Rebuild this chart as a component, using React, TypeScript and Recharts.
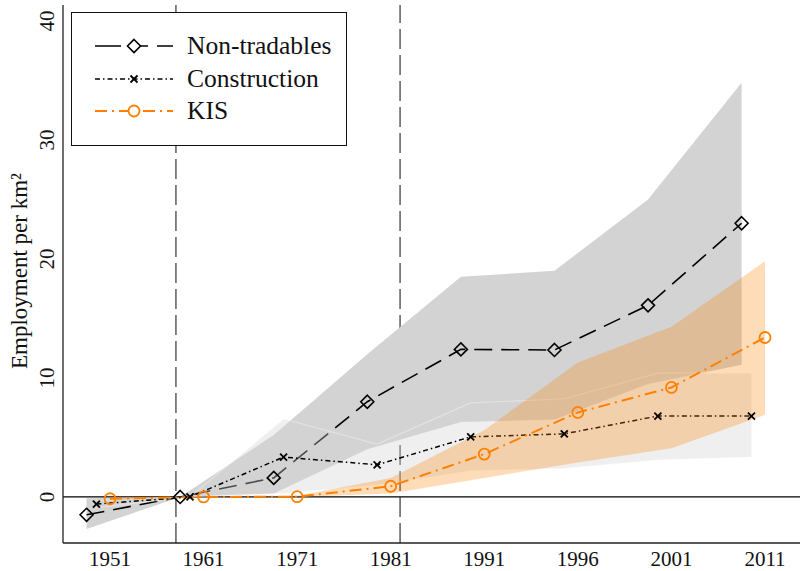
import React from 'react';
import { ComposedChart, Area, Line, XAxis, YAxis, ReferenceLine } from 'recharts';

// ---- data ----
const years = ['1951', '1961', '1971', '1981', '1991', '1996', '2001', '2011'];

const ntValues = [-1.5, 0, 1.6, 8.0, 12.4, 12.35, 16.1, 23.0];
const ntLow = [-2.7, 0, 0.3, 4.0, 6.3, 6.5, 9.5, 11.1];
const ntHigh = [-0.1, 0, 5.2, 12.0, 18.5, 19.0, 25.0, 34.8];

const conValues = [-0.6, 0, 3.35, 2.7, 5.05, 5.3, 6.8, 6.8];
const conLow = [-0.9, 0, 0.3, 1.0, 2.2, 2.4, 3.1, 3.35];
const conHigh = [-0.3, 0, 6.55, 4.45, 7.9, 8.25, 10.4, 10.4];

const kisValues = [-0.15, 0, 0.02, 0.9, 3.6, 7.1, 9.2, 13.4];
const kisLow = [-0.25, 0, 0, 0.3, 1.6, 2.9, 4.1, 6.9];
const kisHigh = [-0.05, 0, 0.1, 1.6, 5.6, 11.3, 14.3, 19.8];

const yTicks = [0, 10, 20, 30, 40];
const periodMarks = [0.705, 3.1];

const NT_OFFSET = -0.25;
const CON_OFFSET = -0.145;

const ntData = years.map((_, i) => ({ x: i + NT_OFFSET, v: ntValues[i], range: [ntLow[i], ntHigh[i]] }));
const conData = years.map((_, i) => ({ x: i + CON_OFFSET, v: conValues[i], range: [conLow[i], conHigh[i]] }));
const kisData = years.map((_, i) => ({ x: i, v: kisValues[i], range: [kisLow[i], kisHigh[i]] }));

const FONT = '"Liberation Serif", "DejaVu Serif", serif';
const ORANGE = '#ff8000';

const diamondPts = (cx: number, cy: number, r: number) =>
  `${cx},${cy - r} ${cx + r},${cy} ${cx},${cy + r} ${cx - r},${cy}`;

const DiamondDot = (p: any) => {
  const { cx, cy, index } = p;
  if (cx == null || cy == null) return <g key={`dd${index}`} />;
  return <polygon key={`dd${index}`} points={diamondPts(cx, cy, 6.5)} fill="none" stroke="#000" strokeWidth={1.6} />;
};

const CrossDot = (p: any) => {
  const { cx, cy, index } = p;
  if (cx == null || cy == null) return <g key={`cd${index}`} />;
  const r = 3.5;
  return (
    <g key={`cd${index}`} stroke="#000" strokeWidth={1.8}>
      <line x1={cx - r} y1={cy - r} x2={cx + r} y2={cy + r} />
      <line x1={cx - r} y1={cy + r} x2={cx + r} y2={cy - r} />
    </g>
  );
};

const CircleDot = (p: any) => {
  const { cx, cy, index } = p;
  if (cx == null || cy == null) return <g key={`kd${index}`} />;
  return <circle key={`kd${index}`} cx={cx} cy={cy} r={5.5} fill="none" stroke={ORANGE} strokeWidth={1.8} />;
};

const YTick = (p: any) => {
  const { x, y, payload } = p;
  const bx = x - 1;
  return (
    <text x={bx} y={y} transform={`rotate(-90, ${bx}, ${y})`} textAnchor="middle" fontFamily={FONT} fontSize={21} fill="#111">
      {payload.value}
    </text>
  );
};

const YTitle = () => (
  <text x={27} y={271} transform="rotate(-90, 27, 271)" textAnchor="middle" fontFamily={FONT} fontSize={23} fill="#111">
    Employment per km²
  </text>
);

const legendItems = [
  { name: 'Non-tradables', kind: 'nt' },
  { name: 'Construction', kind: 'con' },
  { name: 'KIS', kind: 'kis' },
];

const Legend = () => {
  const rowsY = [46, 79, 111];
  return (
    <svg width={801} height={571} style={{ position: 'absolute', left: 0, top: 0, pointerEvents: 'none' }}>
      <rect x={71.5} y={12.5} width={275} height={133} fill="#fff" stroke="#111" strokeWidth={1} />
      {legendItems.map((it, i) => {
        const y = rowsY[i];
        let sample: any = null;
        if (it.kind === 'nt') {
          sample = (
            <g>
              <line x1={95} y1={y} x2={173} y2={y} stroke="#000" strokeWidth={1.6} strokeDasharray="26 9 18 9" />
              <polygon points={diamondPts(134, y, 6.5)} fill="#fff" stroke="#000" strokeWidth={1.6} />
            </g>
          );
        } else if (it.kind === 'con') {
          sample = (
            <g>
              <line x1={95} y1={y} x2={173} y2={y} stroke="#000" strokeWidth={1.5} strokeDasharray="5 3 1.5 3" />
              <g stroke="#000" strokeWidth={1.8}>
                <line x1={130.5} y1={y - 3.5} x2={137.5} y2={y + 3.5} />
                <line x1={130.5} y1={y + 3.5} x2={137.5} y2={y - 3.5} />
              </g>
            </g>
          );
        } else {
          sample = (
            <g>
              <line x1={95} y1={y} x2={173} y2={y} stroke={ORANGE} strokeWidth={2} strokeDasharray="12 5 2 5" />
              <circle cx={134} cy={y} r={5.5} fill="#fff" stroke={ORANGE} strokeWidth={1.8} />
            </g>
          );
        }
        return (
          <g key={it.name}>
            {sample}
            <text x={187} y={y + 8} fontFamily={FONT} fontSize={25.5} fill="#111">
              {it.name}
            </text>
          </g>
        );
      })}
    </svg>
  );
};

export default function App() {
  return (
    <div style={{ position: 'absolute', left: 0, top: 0, width: 801, height: 571, background: '#fff' }}>
      <ComposedChart width={801} height={571} margin={{ top: 5, right: 1, bottom: 0, left: 0 }}>
        <XAxis
          type="number"
          dataKey="x"
          domain={[-0.502, 7.374]}
          ticks={[0, 1, 2, 3, 4, 5, 6, 7]}
          tickFormatter={(v: number) => years[v] ?? ''}
          allowDataOverflow
          height={28}
          tickLine={false}
          axisLine={{ stroke: '#222', strokeWidth: 1.3 }}
          tick={{ fontFamily: FONT, fontSize: 21, fill: '#111' }}
        />
        <YAxis
          type="number"
          domain={[-3.87, 41.34]}
          ticks={yTicks}
          allowDataOverflow
          width={63}
          tickLine={false}
          axisLine={{ stroke: '#222', strokeWidth: 1.3 }}
          tick={<YTick />}
          label={<YTitle />}
        />
        <Area data={ntData} dataKey="range" type="linear" stroke="none" fill="#d3d3d3" fillOpacity={1} isAnimationActive={false} zIndex={100} />
        <Line data={ntData} dataKey="v" type="linear" stroke="#000" strokeWidth={1.6} strokeDasharray="18 9" dot={DiamondDot} activeDot={false} isAnimationActive={false} zIndex={110} />
        <Area data={conData} dataKey="range" type="linear" stroke="#ffffff" strokeOpacity={0.35} strokeWidth={1.2} fill="#d3d3d3" fillOpacity={0.36} isAnimationActive={false} zIndex={120} />
        <Line data={conData} dataKey="v" type="linear" stroke="#000" strokeWidth={1.5} strokeDasharray="5 3 1.5 3" dot={CrossDot} activeDot={false} isAnimationActive={false} zIndex={130} />
        <Area data={kisData} dataKey="range" type="linear" stroke="none" fill={ORANGE} fillOpacity={0.28} isAnimationActive={false} zIndex={140} />
        <Line data={kisData} dataKey="v" type="linear" stroke={ORANGE} strokeWidth={2} strokeDasharray="12 5 2 5" dot={CircleDot} activeDot={false} isAnimationActive={false} zIndex={150} />
        <ReferenceLine y={0} stroke="#000" strokeWidth={1.3} zIndex={90} />
        {periodMarks.map((m) => (
          <ReferenceLine key={m} x={m} stroke="#222" strokeWidth={1.1} strokeDasharray="20 6" zIndex={95} />
        ))}
      </ComposedChart>
      <Legend />
    </div>
  );
}
